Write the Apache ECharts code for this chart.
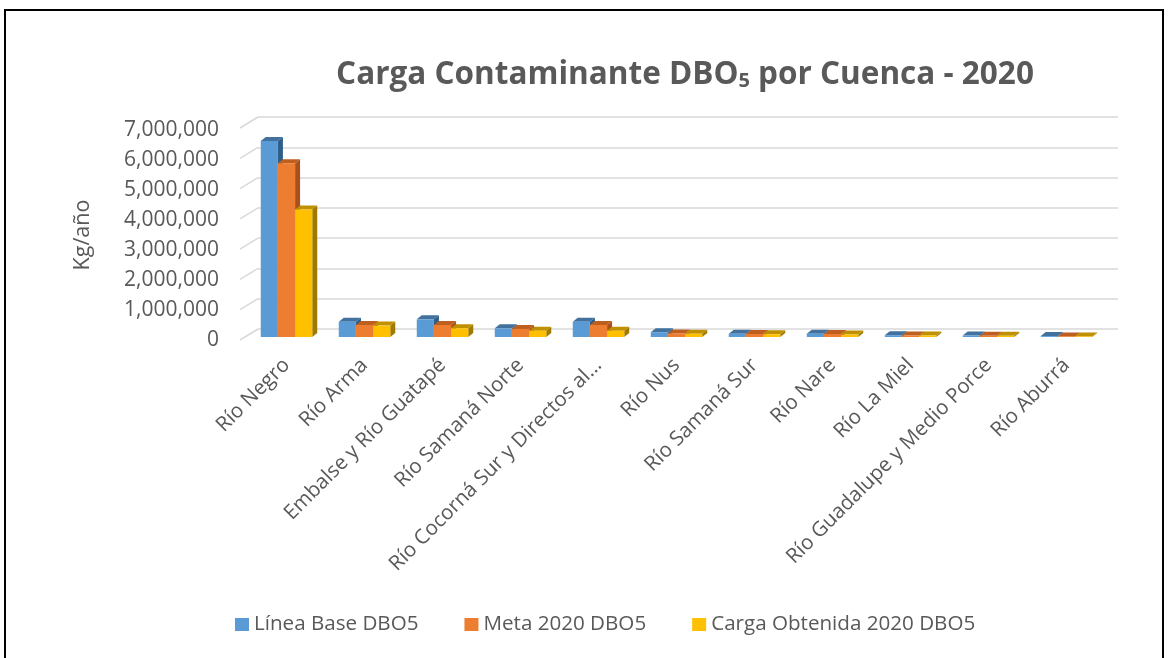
<!DOCTYPE html>
<html lang="es">
<head>
  <meta charset="UTF-8">
  <title>Carga Contaminante DBO5 por Cuenca - 2020</title>
  <script src="https://cdn.jsdelivr.net/npm/echarts@6/dist/echarts.min.js"></script>
</head>
<body style="margin: 0;">
<div id="main" style="width: 1176px; height: 658px;"></div>
<script type="text/javascript">
  // datos (kg/año)
  const cuencas = ['Río Negro', 'Río Arma', 'Embalse y Río Guatapé', 'Río Samaná Norte',
    'Río Cocorná Sur y Directos al...', 'Río Nus', 'Río Samaná Sur', 'Río Nare', 'Río La Miel',
    'Río Guadalupe y Medio Porce', 'Río Aburrá']
  const lineaBase = [6530000, 510000, 590000, 290000, 510000, 160000, 110000, 110000, 60000, 50000, 30000]
  const meta2020 = [5790000, 400000, 400000, 270000, 400000, 120000, 100000, 100000, 50000, 40000, 20000]
  const cargaObtenida = [4250000, 380000, 290000, 210000, 210000, 110000, 90000, 80000, 50000, 40000, 20000]
  const yTicks = [0, 1000000, 2000000, 3000000, 4000000, 5000000, 6000000, 7000000]

  const series = [
    {name: 'Línea Base DBO5', data: lineaBase, front: '#5B9BD5', top: '#41719C', side: '#2E5F8A'},
    {name: 'Meta 2020 DBO5', data: meta2020, front: '#ED7D31', top: '#BE5F1F', side: '#A9511A'},
    {name: 'Carga Obtenida 2020 DBO5', data: cargaObtenida, front: '#FFC000', top: '#BF9000', side: '#A07A00'},
  ]

  const grey = '#595959'
  const myChart = echarts.init(document.getElementById('main'))

  // barra con cara frontal, tapa y lateral (efecto 3D)
  function barRender(idx, s) {
    return function (params, api) {
      const cat = api.value(0)
      const base = api.coord([cat, 0])
      const peak = api.coord([cat, api.value(1)])
      const w = api.size([1, 0])[0] * 0.22
      const x0 = base[0] - 1.5 * w + idx * w
      const x1 = x0 + w
      const yb = base[1], yt = peak[1]
      const dx = 5, dy = 4
      return {
        type: 'group',
        children: [
          {type: 'polygon', shape: {points: [[x1, yt], [x1 + dx, yt - dy], [x1 + dx, yb - dy], [x1, yb]]}, style: {fill: s.side}},
          {type: 'polygon', shape: {points: [[x0, yt], [x0 + dx, yt - dy], [x1 + dx, yt - dy], [x1, yt]]}, style: {fill: s.top}},
          {type: 'rect', shape: {x: x0, y: yt, width: w, height: yb - yt}, style: {fill: s.front}}
        ]
      }
    }
  }

  const option = {
    animation: false,
    textStyle: {fontFamily: 'Open Sans'},
    title: {
      text: '{a|Carga Contaminante DBO}{b|5}{a| por Cuenca - 2020}',
      left: 680,
      top: 46,
      textAlign: 'center',
      textStyle: {
        rich: {
          a: {fontFamily: 'Open Sans', fontWeight: 'bold', fontSize: 31.5, color: grey, lineHeight: 40, verticalAlign: 'bottom'},
          b: {fontFamily: 'Open Sans', fontWeight: 'bold', fontSize: 20, color: grey, lineHeight: 33, verticalAlign: 'bottom'}
        }
      }
    },
    legend: {
      left: 235,
      top: 614,
      padding: 0,
      icon: 'rect',
      itemWidth: 14,
      itemHeight: 13,
      itemGap: 46,
      textStyle: {fontSize: 20.6, color: grey, fontFamily: 'Open Sans'},
      data: series.map(s => s.name)
    },
    graphic: [{
      type: 'rect',
      silent: true,
      z: -1,
      shape: {x: 5, y: 10, width: 1158, height: 700},
      style: {fill: null, stroke: '#000', lineWidth: 2}
    }],
    grid: [
      {left: 258, top: 117, width: 860, height: 212},   // pared del fondo
      {left: 240, top: 130, width: 860, height: 210},   // etiquetas eje Y
      {left: 247.5, top: 127, width: 858, height: 210}  // barras
    ],
    xAxis: [
      {gridIndex: 0, type: 'value', min: 0, max: 1, show: false},
      {gridIndex: 1, type: 'value', min: 0, max: 1, show: false},
      {
        gridIndex: 2,
        type: 'category',
        data: cuencas,
        axisLine: {show: false},
        axisTick: {show: false},
        axisLabel: {interval: 0, rotate: 45, margin: 25, fontSize: 20.5, color: grey, fontFamily: 'Open Sans'}
      }
    ],
    yAxis: [
      {
        gridIndex: 0, type: 'value', min: 0, max: 7000000, interval: 1000000,
        axisLabel: {show: false}, axisLine: {show: false}, axisTick: {show: false},
        splitLine: {lineStyle: {color: '#d9d9d9', width: 1.5}}
      },
      {
        gridIndex: 1, type: 'value', min: 0, max: 7000000, interval: 1000000,
        name: 'Kg/año', nameLocation: 'middle', nameGap: 146, nameRotate: 90,
        nameTextStyle: {fontSize: 21.5, color: grey, fontFamily: 'Open Sans'},
        axisLine: {show: false}, axisTick: {show: false}, splitLine: {show: false},
        axisLabel: {margin: 21, fontSize: 21, color: grey, fontFamily: 'Open Sans',
          formatter: v => v.toLocaleString('en-US')}
      },
      {gridIndex: 2, type: 'value', min: 0, max: 7000000, show: false}
    ],
    series: [
      {
        type: 'custom',
        xAxisIndex: 0,
        yAxisIndex: 0,
        silent: true,
        data: yTicks.map(v => [0, v]),
        renderItem: function (params, api) {
          const p = api.coord([0, api.value(1)])
          return {type: 'line', shape: {x1: p[0] - 18, y1: p[1] + 11, x2: p[0], y2: p[1]},
            style: {stroke: '#d9d9d9', lineWidth: 1.5}}
        }
      }
    ].concat(series.map((s, i) => ({
      name: s.name,
      type: 'custom',
      xAxisIndex: 2,
      yAxisIndex: 2,
      itemStyle: {color: s.front},
      data: s.data.map((v, j) => [j, v]),
      renderItem: barRender(i, s)
    })))
  }

  myChart.setOption(option)
</script>
</body>
</html>
